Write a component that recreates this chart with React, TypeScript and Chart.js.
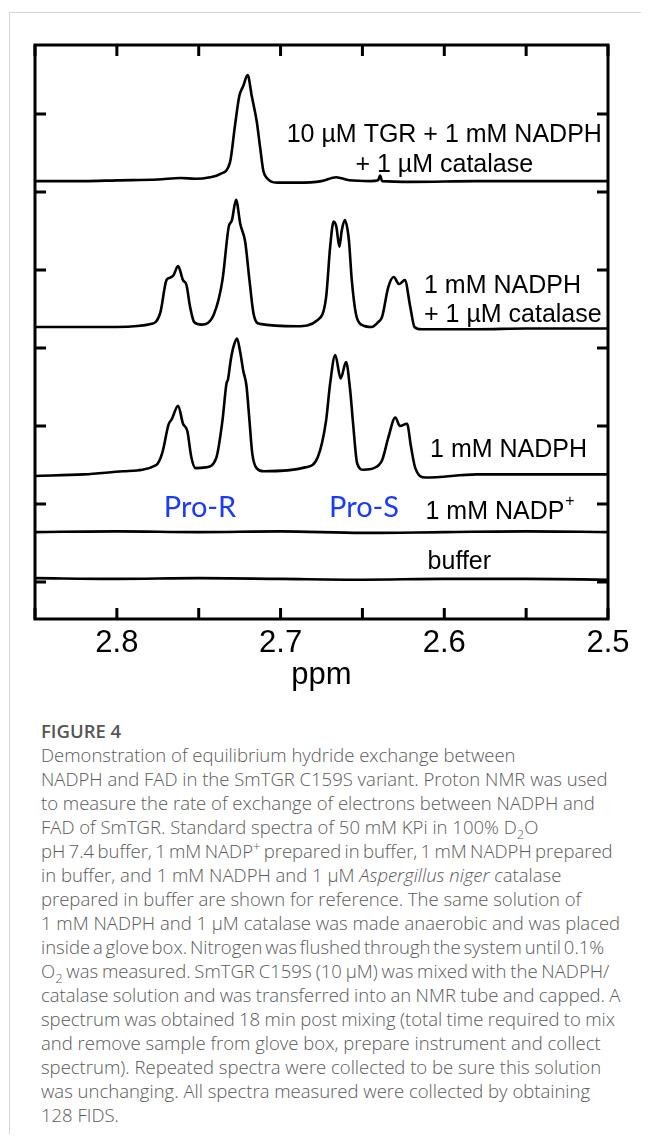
import React, { useEffect, useRef } from "react";
import { Chart, registerables } from "chart.js";

Chart.register(...registerables);

// ---------- data (ppm, intensity above each trace's own baseline) ----------
const xTickLabels = [2.8, 2.7, 2.6, 2.5];
const xTickMarks = [2.85, 2.8, 2.75, 2.7, 2.65, 2.6, 2.55, 2.5];
const yTickMarks = [0, 1, 2, 3, 4, 5, 6];

const traceNames = ["10 µM TGR + NADPH + catalase", "NADPH + catalase", "NADPH", "NADP+", "buffer"];
const traceOffsets = [5.14, 3.27, 1.38, 0.64, 0.04];

const tgrPpm = [2.85, 2.82, 2.8, 2.775, 2.761, 2.752, 2.7431, 2.737, 2.7309, 2.7278, 2.7252, 2.7228, 2.7201, 2.7176, 2.7146, 2.7126, 2.7105, 2.7084, 2.7023, 2.69, 2.675, 2.666, 2.658, 2.645, 2.6405, 2.6392, 2.638, 2.62, 2.58, 2.54, 2.5];
const tgrInt = [0, 0, 0.01, 0.02, 0.04, 0.03, 0.05, 0.09, 0.24, 0.72, 1.09, 1.22, 1.36, 1.09, 0.77, 0.45, 0.13, 0.04, -0.02, -0.02, 0.0, 0.05, 0.01, 0.0, 0.01, 0.07, 0.0, -0.01, 0.0, 0.0, 0.0];

const nadphCatPpm = [2.85, 2.82, 2.8, 2.7786, 2.7735, 2.7697, 2.7677, 2.7655, 2.7626, 2.7596, 2.7575, 2.7553, 2.7527, 2.7482, 2.7406, 2.7355, 2.7317, 2.7297, 2.7272, 2.7246, 2.7216, 2.719, 2.7165, 2.7127, 2.69, 2.6773, 2.6722, 2.6697, 2.6676, 2.6659, 2.6641, 2.6626, 2.6608, 2.6583, 2.6565, 2.654, 2.6507, 2.6443, 2.6405, 2.638, 2.6342, 2.6309, 2.6276, 2.6241, 2.6208, 2.6182, 2.6139, 2.58, 2.55, 2.5];
const nadphCatInt = [0, 0, 0, 0.04, 0.18, 0.6, 0.63, 0.66, 0.78, 0.6, 0.54, 0.26, 0.06, 0.03, 0.17, 0.6, 1.28, 1.37, 1.63, 1.32, 1.09, 0.6, 0.17, 0.04, 0.01, 0.09, 0.38, 1.03, 1.35, 1.28, 1.03, 1.24, 1.37, 1.12, 0.6, 0.17, 0.03, 0.0, 0.06, 0.13, 0.51, 0.64, 0.55, 0.6, 0.26, 0.0, -0.03, -0.03, -0.02, -0.02];

const nadphPpm = [2.85, 2.82, 2.7963, 2.776, 2.7722, 2.7684, 2.7664, 2.7626, 2.7596, 2.757, 2.7545, 2.752, 2.7456, 2.7393, 2.7355, 2.733, 2.7322, 2.7304, 2.7287, 2.7266, 2.7246, 2.7228, 2.7208, 2.719, 2.7173, 2.7147, 2.7102, 2.6849, 2.6773, 2.6722, 2.6697, 2.6666, 2.6633, 2.66, 2.6575, 2.6557, 2.6532, 2.6494, 2.6431, 2.638, 2.6342, 2.6299, 2.6271, 2.6228, 2.6203, 2.6177, 2.6114, 2.58, 2.54, 2.5];
const nadphInt = [-0.02, 0.0, 0.04, 0.12, 0.28, 0.64, 0.71, 0.88, 0.65, 0.56, 0.22, 0.08, 0.09, 0.21, 0.69, 1.17, 1.21, 1.47, 1.64, 1.74, 1.56, 1.33, 1.13, 0.69, 0.27, 0.08, 0.04, 0.09, 0.22, 0.69, 1.17, 1.53, 1.23, 1.44, 1.08, 0.65, 0.14, 0.06, 0.08, 0.18, 0.47, 0.73, 0.62, 0.65, 0.35, 0.08, -0.04, 0.0, 0.0, 0.0];

const nadpPpm = [2.85, 2.8, 2.75, 2.7, 2.65, 2.6, 2.55, 2.5];
const nadpInt = [0.0, 0.01, 0.0, 0.01, -0.01, 0.0, 0.01, 0.0];

const bufferPpm = [2.85, 2.8, 2.75, 2.7, 2.65, 2.6, 2.55, 2.5];
const bufferInt = [0.01, 0.0, 0.01, 0.0, -0.01, 0.0, 0.0, -0.01];

const tracePpm = [tgrPpm, nadphCatPpm, nadphPpm, nadpPpm, bufferPpm];
const traceInt = [tgrInt, nadphCatInt, nadphInt, nadpInt, bufferInt];

// ---------- annotation text ----------
const annotationTexts = ["10 µM TGR + 1 mM NADPH", "+ 1 µM catalase", "1 mM NADPH", "+ 1 µM catalase", "1 mM NADPH", "Pro-R", "Pro-S", "1 mM NADP", "buffer"];
const annotationPpm = [2.6, 2.6, 2.6124, 2.6124, 2.6087, 2.7492, 2.649, 2.6115, 2.6102];
const annotationY = [5.73, 5.35, 3.79, 3.42, 1.69, 0.95, 0.95, 0.9, 0.26];
const annotationAlign: CanvasTextAlign[] = ["center", "center", "left", "left", "left", "center", "center", "left", "left"];
const annotationBlue = [false, false, false, false, false, true, true, false, false];
const annotationSup = ["", "", "", "", "", "", "", "+", ""];

const subStyle: React.CSSProperties = { fontSize: "0.7em", lineHeight: 0 };

const captionLines: React.ReactNode[] = [
  "Demonstration of equilibrium hydride exchange between",
  "NADPH and FAD in the SmTGR C159S variant. Proton NMR was used",
  "to measure the rate of exchange of electrons between NADPH and",
  <>FAD of SmTGR. Standard spectra of 50 mM KPi in 100% D<sub style={subStyle}>2</sub>O</>,
  <>pH 7.4 buffer, 1 mM NADP<sup style={subStyle}>+</sup> prepared in buffer, 1 mM NADPH prepared</>,
  <>in buffer, and 1 mM NADPH and 1 µM <i>Aspergillus niger c</i>atalase</>,
  "prepared in buffer are shown for reference. The same solution of",
  "1 mM NADPH and 1 µM catalase was made anaerobic and was placed",
  "inside a glove box. Nitrogen was flushed through the system until 0.1%",
  <>O<sub style={subStyle}>2</sub> was measured. SmTGR C159S (10 µM) was mixed with the NADPH/</>,
  "catalase solution and was transferred into an NMR tube and capped. A",
  "spectrum was obtained 18 min post mixing (total time required to mix",
  "and remove sample from glove box, prepare instrument and collect",
  "spectrum). Repeated spectra were collected to be sure this solution",
  "was unchanging. All spectra measured were collected by obtaining",
  "128 FIDS.",
];
// lines that are set tighter in the original (word spacing in px)
const captionWordSpacing = [0, 0, 0, 0, -1.5, 0, 0, 0, -2, -1, -0.5, -0.5, 0, 0, 0, 0];

const AX_FONT = '"Liberation Sans", Arial, sans-serif';

const framePlugin = {
  id: "frameAndLabels",
  afterDatasetsDraw(chart: any) {
    const { ctx, chartArea } = chart;
    const xs = chart.scales.x;
    const ys = chart.scales.y;
    const { left, right, top, bottom } = chartArea;
    const tl = 11;
    ctx.save();
    ctx.strokeStyle = "#000";
    ctx.lineWidth = 3;
    ctx.lineCap = "butt";
    ctx.strokeRect(left, top, right - left, bottom - top);
    ctx.beginPath();
    xTickMarks.forEach((v) => {
      const px = xs.getPixelForValue(v);
      ctx.moveTo(px, bottom);
      ctx.lineTo(px, bottom - tl);
      ctx.moveTo(px, top);
      ctx.lineTo(px, top + tl);
    });
    yTickMarks.forEach((v) => {
      const py = ys.getPixelForValue(v);
      ctx.moveTo(left, py);
      ctx.lineTo(left + tl, py);
      ctx.moveTo(right, py);
      ctx.lineTo(right - tl, py);
    });
    ctx.stroke();

    ctx.textBaseline = "middle";
    annotationTexts.forEach((t, i) => {
      const px = xs.getPixelForValue(annotationPpm[i]);
      const py = ys.getPixelForValue(annotationY[i]);
      ctx.font = annotationBlue[i] ? `29px Lato, "Open Sans", sans-serif` : `25px ${AX_FONT}`;
      ctx.fillStyle = annotationBlue[i] ? "#1a3cf8" : "#000";
      ctx.textAlign = annotationAlign[i];
      ctx.fillText(t, px, py);
      if (annotationSup[i]) {
        const w = ctx.measureText(t).width;
        ctx.font = `16px ${AX_FONT}`;
        ctx.textAlign = "left";
        ctx.fillText(annotationSup[i], px + w + 1, py - 10);
      }
    });
    ctx.restore();
  },
};

export default function App() {
  const ref = useRef<HTMLCanvasElement>(null);

  useEffect(() => {
    document.body.style.overflow = "hidden";
    const canvas = ref.current;
    if (!canvas) return;
    const datasets = tracePpm.map((ppms, k) => ({
      label: traceNames[k],
      data: ppms.map((p, i) => ({ x: p, y: traceOffsets[k] + traceInt[k][i] })),
      borderColor: "#000",
      borderWidth: 2.6,
      pointRadius: 0,
      fill: false,
      cubicInterpolationMode: "monotone" as const,
    }));
    const chart = new Chart(canvas, {
      type: "line",
      data: { datasets },
      options: {
        animation: false,
        responsive: false,
        devicePixelRatio: 1,
        layout: { padding: { left: 27, top: 37, right: 41, bottom: 9 } },
        plugins: {
          legend: { display: false },
          tooltip: { enabled: false },
          title: { display: false },
        },
        scales: {
          x: {
            type: "linear",
            reverse: true,
            min: 2.5,
            max: 2.85,
            border: { display: false },
            grid: { display: false, drawTicks: false },
            afterBuildTicks: (s: any) => {
              s.ticks = xTickLabels.map((v) => ({ value: v }));
            },
            afterFit: (s: any) => {
              s.height = 80;
            },
            ticks: {
              autoSkip: false,
              maxRotation: 0,
              padding: 6,
              color: "#000",
              font: { family: AX_FONT, size: 31 },
              callback: (v: any) => Number(v).toFixed(1),
            },
            title: {
              display: true,
              text: "ppm",
              color: "#000",
              font: { family: AX_FONT, size: 31 },
              padding: { top: 0, bottom: 5 },
            },
          },
          y: {
            type: "linear",
            min: -0.474,
            max: 6.885,
            display: false,
          },
        },
      },
      plugins: [framePlugin],
    });
    return () => chart.destroy();
  }, []);

  return (
    <div style={{ position: "relative", width: 641, height: 1126 }}>
      <div
        style={{
          position: "absolute",
          left: 1,
          top: 4,
          right: 0,
          bottom: 0,
          borderTop: "1px solid #d6d6d6",
          borderLeft: "1px solid #d6d6d6",
        }}
      />
      <canvas
        ref={ref}
        width={641}
        height={700}
        style={{ position: "absolute", left: 0, top: 0, width: 641, height: 700 }}
      />
      <div
        style={{
          position: "absolute",
          left: 33,
          top: 711,
          fontFamily: '"Open Sans", sans-serif',
          fontWeight: 300,
          fontSize: 18.5,
          lineHeight: "24px",
          color: "#5a5a5a",
          whiteSpace: "nowrap",
        }}
      >
        <div style={{ fontWeight: 600, fontSize: 18.5, color: "#555" }}>FIGURE 4</div>
        {captionLines.map((l, i) => (
          <div key={i} style={{ wordSpacing: captionWordSpacing[i] }}>
            {l}
          </div>
        ))}
      </div>
    </div>
  );
}
